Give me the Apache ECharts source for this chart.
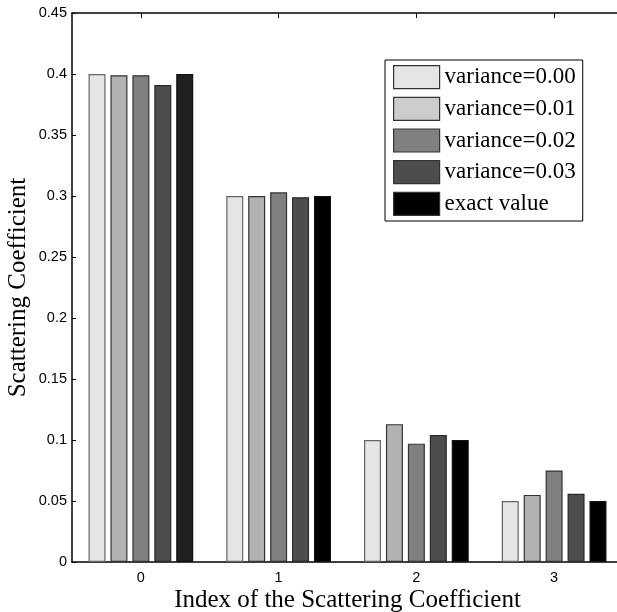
<!DOCTYPE html>
<html>
<head>
<meta charset="utf-8">
<script src="https://cdn.jsdelivr.net/npm/echarts@6/dist/echarts.min.js"></script>
<style>html,body{margin:0;padding:0;background:#fff;}#c{width:617px;height:612px;}</style>
</head>
<body>
<div id="c"></div>
<script>
const categories = ['0', '1', '2', '3'];
const seriesNames = ['variance=0.00', 'variance=0.01', 'variance=0.02', 'variance=0.03', 'exact value'];
const var000 = [0.400, 0.300, 0.100, 0.050];
const var001 = [0.399, 0.300, 0.113, 0.055];
const var002 = [0.399, 0.303, 0.097, 0.075];
const var003 = [0.391, 0.299, 0.104, 0.056];
const exact  = [0.400, 0.300, 0.100, 0.050];
const yTicks = [0, 0.05, 0.1, 0.15, 0.2, 0.25, 0.3, 0.35, 0.4, 0.45];

const barColors = ['#e5e5e5', '#b2b2b2', '#808080', '#4d4d4d', '#000000'];
const legendColors = ['#e5e5e5', '#cccccc', '#808080', '#4d4d4d', '#000000'];
const borderColors = ['#666666', '#333333', '#333333', '#2a2a2a', '#111111'];
const allData = [var000, var001, var002, var003, exact];

const chart = echarts.init(document.getElementById('c'), null, {renderer: 'canvas'});
const serif = 'Liberation Serif';
const sans = 'Liberation Sans';

chart.setOption({
  animation: false,
  backgroundColor: '#ffffff',
  grid: {left: 72, right: -6, top: 13, bottom: 50, containLabel: false, outerBoundsMode: 'none'},
  legend: {
    orient: 'vertical',
    left: 385, top: 60,
    padding: [5, 7, 5, 8],
    itemWidth: 46, itemHeight: 23, itemGap: 7.5,
    icon: 'rect',
    borderColor: '#000', borderWidth: 1,
    backgroundColor: '#fff',
    textStyle: {fontFamily: serif, fontSize: 23, color: '#000'},
    data: seriesNames.map((n, i) => ({name: n, icon: 'rect', itemStyle: {color: legendColors[i], borderColor: '#333', borderWidth: 1.2}}))
  },
  xAxis: [{
    type: 'category',
    data: categories,
    boundaryGap: true,
    axisLine: {lineStyle: {color: '#000', width: 1.5}},
    axisTick: {show: true, inside: true, alignWithLabel: true, length: 5, lineStyle: {color: '#000'}},
    axisLabel: {fontFamily: sans, fontSize: 14.5, color: '#000', margin: 8},
    name: 'Index of the Scattering Coefficient',
    nameLocation: 'middle', nameGap: 26, nameMoveOverlap: false,
    nameTextStyle: {fontFamily: serif, fontSize: 25, color: '#000'}
  }, {
    type: 'category',
    data: categories,
    position: 'top',
    boundaryGap: true,
    axisLine: {show: true, lineStyle: {color: '#000', width: 1.5}},
    axisTick: {show: true, inside: true, alignWithLabel: true, length: 5, lineStyle: {color: '#000'}},
    axisLabel: {show: false}
  }],
  yAxis: {
    type: 'value',
    min: 0, max: 0.45, interval: 0.05,
    axisLine: {show: true, lineStyle: {color: '#000', width: 1.5}},
    axisTick: {show: true, inside: true, length: 4, lineStyle: {color: '#000'}},
    splitLine: {show: false},
    axisLabel: {fontFamily: sans, fontSize: 14.5, color: '#000', margin: 5,
      formatter: v => { const t = yTicks.find(x => Math.abs(x - v) < 1e-9); return String(t !== undefined ? t : v); }},
    name: 'Scattering Coefficient',
    nameLocation: 'middle', nameGap: 41, nameMoveOverlap: false,
    nameTextStyle: {fontFamily: serif, fontSize: 25, color: '#000'}
  },
  series: allData.map((d, i) => ({
    name: seriesNames[i],
    type: 'bar',
    xAxisIndex: 0,
    barWidth: 17,
    barGap: '29%',
    itemStyle: {color: barColors[i], borderColor: borderColors[i], borderWidth: 1.2},
    data: (i === 4) ? d.map((v, k) => k === 0 ? {value: v, itemStyle: {color: '#202020'}} : v) : d
  }))
});
</script>
</body>
</html>
